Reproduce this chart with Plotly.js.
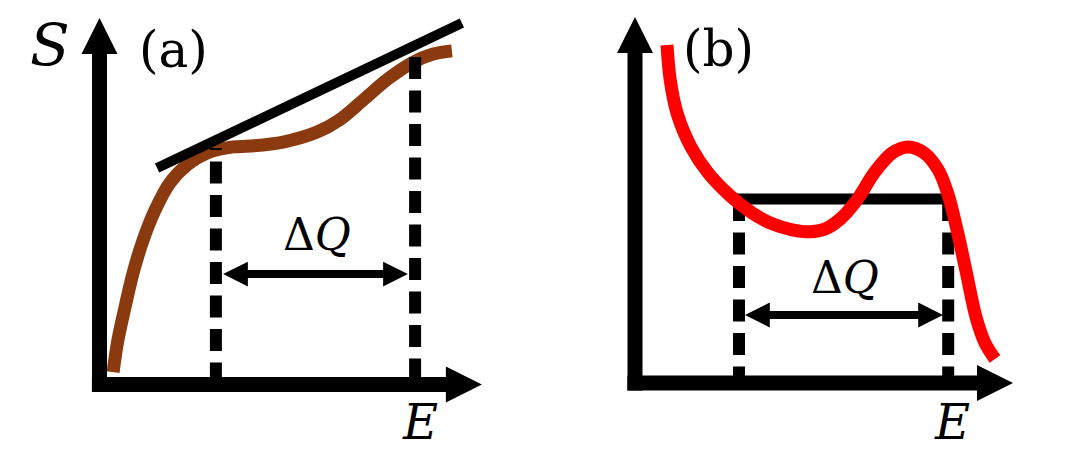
<!DOCTYPE html>
<html><head><meta charset="utf-8">
<script src="https://cdn.plot.ly/plotly-3.0.1.min.js"></script>
<style>html,body{margin:0;padding:0;background:#fff;}#chart{width:1080px;height:466px;}</style>
</head><body><div id="chart"></div>
<script>
// ---------- Panel (a): S(E) with tangent ----------
const curveA_E = [0.34,0.46,0.64,0.84,1.09,1.39,1.76,2.19,2.69,3.34,3.76,4.59,5.44,5.99,6.59,7.21,7.81,8.34,8.81];
const curveA_S = [0.31,1.11,1.94,2.79,3.61,4.36,5.04,5.49,5.79,5.94,5.96,6.06,6.31,6.61,7.11,7.64,8.04,8.26,8.34];
const tangentA_E = [1.44, 9.06];
const tangentA_S = [5.41, 9.04];
const dashA_E = [2.91, 7.89];      // tangent points (dashed drop lines)
const dashA_top = [5.91, 8.19];
const arrowA_E = [3.09, 7.71];     // ΔQ double arrow
const arrowA_S = 2.76;
const axisA_max = {E: 9.56, S: 9.16};

// ---------- Panel (b): S(E) with plateau ----------
const curveB_E = [0.80,0.88,1.05,1.40,1.83,2.38,2.93,3.43,3.93,4.38,4.75,5.13,5.55,6.00,6.43,6.83,7.23,7.58,7.83,8.05,8.28,8.53,8.75,9.00];
const curveB_S = [8.45,7.58,6.75,5.90,5.25,4.68,4.25,3.98,3.83,3.78,3.85,4.10,4.58,5.28,5.75,5.90,5.75,5.33,4.70,3.83,2.78,1.63,1.00,0.60];
const plateauB_E = [2.45, 7.95];
const plateauB_S = 4.6;
const dashB_E = [2.6, 7.83];
const dashB_top = [4.6, 4.6];
const arrowB_E = [2.75, 7.7];
const arrowB_S = 1.7;
const axisB_max = {E: 9.45, S: 9.15};

// ---------- Labels ----------
const labelsA = {y: '<i>S</i>', panel: '(a)', dq: 'Δ<i>Q</i>', x: '<i>E</i>'};
const labelsB = {panel: '(b)', dq: 'Δ<i>Q</i>', x: '<i>E</i>'};

// ---------- styles ----------
const BLACK = '#000000', BROWN = '#8a3a0e', RED = '#ff0000';
const FONT = 'DejaVu Serif';
const AXW = 15, AH_L = 0.9, AH_H = 0.45;       // axis arrow
const DAH_L = 0.62, DAH_H = 0.31;               // ΔQ arrow head
const DASH = '22px,11.5px';

const traces = [];
function line(xa, ya, E, S, color, width, dash, shape) {
  traces.push({x: E, y: S, xaxis: xa, yaxis: ya, mode: 'lines', hoverinfo: 'skip',
    line: {color: color, width: width, dash: dash || 'solid', shape: shape || 'linear', smoothing: 1}});
}
function tri(xa, ya, E, S) {
  traces.push({x: E.concat([E[0]]), y: S.concat([S[0]]), xaxis: xa, yaxis: ya, mode: 'lines',
    fill: 'toself', fillcolor: BLACK, line: {width: 0, color: BLACK}, hoverinfo: 'skip'});
}
function axes(xa, ya, m) {
  line(xa, ya, [0, 0], [-0.19, m.S - AH_L + 0.05], BLACK, AXW);
  line(xa, ya, [-0.19, m.E - AH_L + 0.05], [0, 0], BLACK, AXW);
  tri(xa, ya, [0, -AH_H, AH_H], [m.S, m.S - AH_L, m.S - AH_L]);
  tri(xa, ya, [m.E, m.E - AH_L, m.E - AH_L], [0, AH_H, -AH_H]);
}
function dbl(xa, ya, E, s) {
  line(xa, ya, [E[0] + DAH_L - 0.05, E[1] - DAH_L + 0.05], [s, s], BLACK, 8);
  tri(xa, ya, [E[0], E[0] + DAH_L, E[0] + DAH_L], [s, s + DAH_H, s - DAH_H]);
  tri(xa, ya, [E[1], E[1] - DAH_L, E[1] - DAH_L], [s, s + DAH_H, s - DAH_H]);
}

// Panel (a)
axes('x', 'y', axisA_max);
line('x', 'y', curveA_E, curveA_S, BROWN, 13, 'solid', 'spline');
line('x', 'y', tangentA_E, tangentA_S, BLACK, 10);
line('x', 'y', [dashA_E[0], dashA_E[0]], [0, dashA_top[0]], BLACK, 12, DASH);
line('x', 'y', [dashA_E[1], dashA_E[1]], [dashA_top[1], 0], BLACK, 12, DASH);
dbl('x', 'y', arrowA_E, arrowA_S);

// Panel (b)
axes('x2', 'y2', axisB_max);
line('x2', 'y2', plateauB_E, [plateauB_S, plateauB_S], BLACK, 11);
line('x2', 'y2', [dashB_E[0], dashB_E[0]], [dashB_top[0], 0], BLACK, 12, DASH);
line('x2', 'y2', [dashB_E[1], dashB_E[1]], [dashB_top[1], 0], BLACK, 12, DASH);
dbl('x2', 'y2', arrowB_E, arrowB_S);
line('x2', 'y2', curveB_E, curveB_S, RED, 13, 'solid', 'spline');

function ann(xr, yr, x, y, text, size) {
  return {xref: xr, yref: yr, x: x, y: y, text: text, showarrow: false,
    xanchor: 'center', yanchor: 'middle', font: {family: FONT, size: size, color: BLACK}};
}
const annotations = [
  ann('x', 'y', -1.24, 8.5, labelsA.y, 58),
  ann('x', 'y', 1.84, 8.36, labelsA.panel, 50),
  ann('x', 'y', 5.44, 3.74, labelsA.dq, 44),
  ann('x', 'y', 8.01, -0.94, labelsA.x, 48),
  ann('x2', 'y2', 2.08, 8.34, labelsB.panel, 50),
  ann('x2', 'y2', 5.25, 2.63, labelsB.dq, 44),
  ann('x2', 'y2', 7.93, -0.98, labelsB.x, 48)
];

const hidden = {visible: false, fixedrange: true, showgrid: false, zeroline: false};
const layout = {
  width: 1080, height: 466, margin: {l: 0, r: 0, t: 0, b: 0},
  paper_bgcolor: '#ffffff', plot_bgcolor: '#ffffff', showlegend: false,
  xaxis: Object.assign({domain: [0, 0.5], range: [-2.4875, 11.0125], anchor: 'y'}, hidden),
  yaxis: Object.assign({domain: [0, 1], range: [-2.0375, 9.6125], anchor: 'x'}, hidden),
  xaxis2: Object.assign({domain: [0.5, 1], range: [-2.375, 11.125], anchor: 'y2'}, hidden),
  yaxis2: Object.assign({domain: [0, 1], range: [-2.075, 9.575], anchor: 'x2'}, hidden),
  annotations: annotations
};
Plotly.newPlot('chart', traces, layout, {staticPlot: true, displayModeBar: false});
</script></body></html>
